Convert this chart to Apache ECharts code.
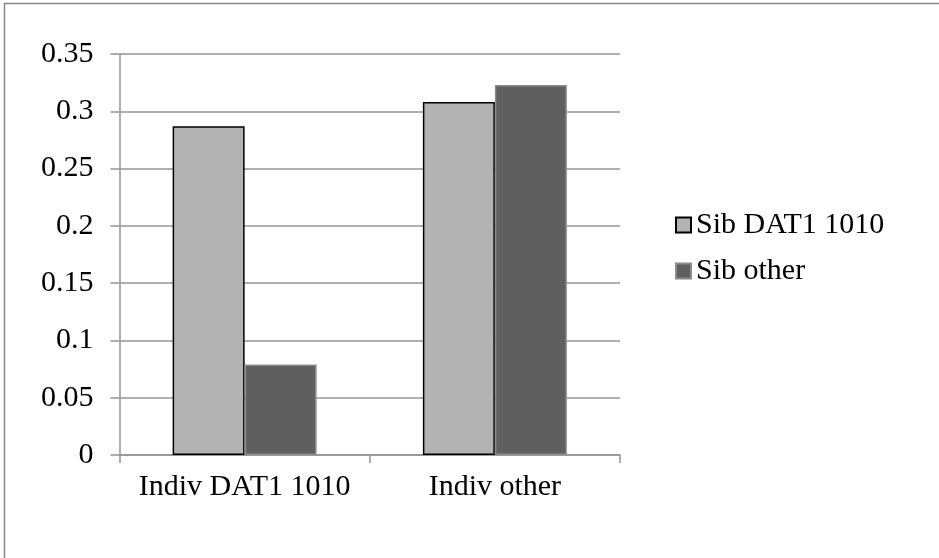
<!DOCTYPE html>
<html>
<head>
<meta charset="utf-8">
<script src="https://cdn.jsdelivr.net/npm/echarts@6/dist/echarts.min.js"></script>
<style>
  html, body { margin: 0; padding: 0; background: #ffffff; }
  #chart { width: 939px; height: 558px; }
</style>
</head>
<body>
<div id="chart"></div>
<script>
// Categories along the x axis
const categories = ['Indiv DAT1 1010', 'Indiv other'];

// Series names and values
const seriesNames = ['Sib DAT1 1010', 'Sib other'];
const sibDat1Values = [0.287, 0.308];
const sibOtherValues = [0.079, 0.323];

// Value axis range and step
const yMin = 0;
const yMax = 0.35;
const yStep = 0.05;

const FONT = 'Liberation Serif, Times New Roman, serif';
const FONT_SIZE = 30;
const GRID_GRAY = '#949494';

const chart = echarts.init(document.getElementById('chart'), null, { renderer: 'canvas' });

chart.setOption({
  backgroundColor: '#ffffff',
  animation: false,
  textStyle: { fontFamily: FONT },
  graphic: [
    {
      type: 'rect',
      shape: { x: 4.5, y: 3.5, width: 1000, height: 1000 },
      style: { fill: 'none', stroke: '#868686', lineWidth: 1.5 },
      silent: true,
      z: -10
    }
  ],
  grid: {
    left: 119.5,
    right: 319,
    top: 54,
    bottom: 103,
    containLabel: false
  },
  legend: {
    orient: 'vertical',
    left: 675,
    top: 210,
    padding: 0,
    itemWidth: 15,
    itemHeight: 15,
    itemGap: 16,
    icon: 'rect',
    textStyle: { fontFamily: FONT, fontSize: FONT_SIZE, color: '#000000' },
    data: seriesNames
  },
  xAxis: {
    type: 'category',
    data: categories,
    boundaryGap: true,
    axisLine: { show: true, lineStyle: { color: GRID_GRAY, width: 1.5 } },
    axisTick: { show: true, length: 8, alignWithLabel: false, lineStyle: { color: GRID_GRAY, width: 1.5 } },
    axisLabel: { interval: 0, margin: 17, fontFamily: FONT, fontSize: FONT_SIZE, color: '#000000' },
    splitLine: { show: false }
  },
  yAxis: {
    type: 'value',
    min: yMin,
    max: yMax,
    interval: yStep,
    axisLine: { show: true, lineStyle: { color: GRID_GRAY, width: 1.5 } },
    axisTick: { show: true, length: 9, lineStyle: { color: GRID_GRAY, width: 1.5 } },
    axisLabel: { margin: 26, fontFamily: FONT, fontSize: FONT_SIZE, color: '#000000' },
    splitLine: { show: true, lineStyle: { color: GRID_GRAY, width: 1.5 } }
  },
  series: [
    {
      name: seriesNames[0],
      type: 'bar',
      data: sibDat1Values,
      barWidth: 72,
      barGap: '0%',
      itemStyle: { color: '#b3b3b3', borderColor: '#000000', borderWidth: 1.5 }
    },
    {
      name: seriesNames[1],
      type: 'bar',
      data: sibOtherValues,
      barWidth: 72,
      barGap: '0%',
      itemStyle: { color: '#5f5f5f', borderColor: '#8c8c8c', borderWidth: 1.5 }
    }
  ]
});
</script>
</body>
</html>
